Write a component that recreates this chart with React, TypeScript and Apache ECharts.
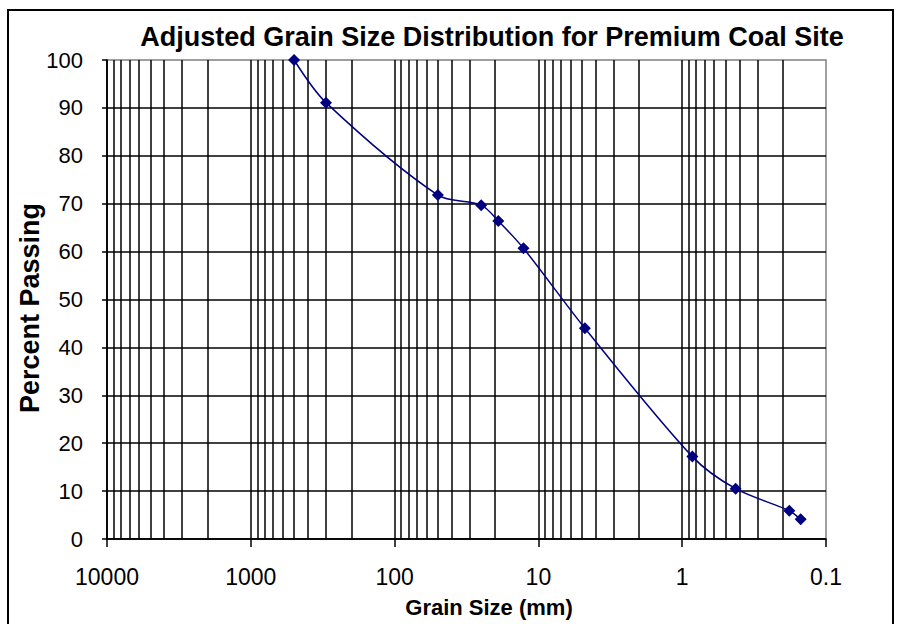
import React, { useEffect, useRef } from "react";
import * as echarts from "echarts";

const grainSize = [500, 300, 50, 25, 19, 12.7, 4.75, 0.85, 0.425, 0.18, 0.15];
const percentPassing = [100, 91.1, 71.8, 69.7, 66.4, 60.7, 44.0, 17.2, 10.5, 5.9, 4.1];
const decades = [0.1, 1, 10, 100, 1000];
const minorMultipliers = [2, 3, 4, 5, 6, 7, 8, 9];

const titleText = "Adjusted Grain Size Distribution for Premium Coal Site";
const xName = "Grain Size (mm)";
const yName = "Percent Passing";

const FONT = '"Liberation Sans", Arial, Helvetica, sans-serif';

export default function App() {
  const ref = useRef<HTMLDivElement>(null);
  useEffect(() => {
    if (!ref.current) return;
    const chart = echarts.init(ref.current, null, { renderer: "svg" });
    const minorLines: any[] = [];
    decades.forEach((d) => minorMultipliers.forEach((m) => minorLines.push({ xAxis: d * m })));
    const points = grainSize.map((g, i) => [g, percentPassing[i]]);
    chart.setOption({
      animation: false,
      backgroundColor: "#ffffff",
      textStyle: { fontFamily: FONT },
      title: {
        text: titleText,
        left: 487,
        top: 18,
        textAlign: "center",
        textStyle: { fontFamily: FONT, fontSize: 27, fontWeight: "bold", color: "#000" },
      },
      grid: {
        left: 107,
        right: 78,
        top: 60,
        bottom: 85,
        show: true,
        borderColor: "#808080",
        borderWidth: 1.5,
        backgroundColor: "transparent",
      },
      xAxis: {
        type: "log",
        logBase: 10,
        min: 0.1,
        max: 10000,
        inverse: true,
        axisLine: { show: true, onZero: false, lineStyle: { color: "#000", width: 1.5 } },
        axisTick: { show: true, inside: false, length: 8, lineStyle: { color: "#000", width: 1.5 } },
        axisLabel: {
          margin: 26,
          fontSize: 23,
          color: "#000",
          fontFamily: FONT,
          formatter: (v: number) => String(parseFloat(Number(v).toPrecision(6))),
        },
        splitLine: { show: true, showMinLine: false, lineStyle: { color: "#000", width: 1.5 } },
        minorTick: { show: false },
        minorSplitLine: { show: false },
      },
      yAxis: {
        type: "value",
        min: 0,
        max: 100,
        interval: 10,
        axisLine: { show: true, lineStyle: { color: "#000", width: 1.5 } },
        axisTick: { show: true, inside: false, length: 5, lineStyle: { color: "#000", width: 1.5 } },
        axisLabel: { margin: 24, fontSize: 22, color: "#000", fontFamily: FONT },
        splitLine: { show: true, showMaxLine: false, lineStyle: { color: "#000", width: 1.5 } },
      },
      graphic: [
        {
          type: "rect",
          shape: { x: 8, y: 10, width: 885, height: 700 },
          style: { fill: "none", stroke: "#000", lineWidth: 2 },
          silent: true,
        },
        {
          type: "text",
          x: 489,
          y: 607,
          style: {
            text: xName,
            align: "center",
            verticalAlign: "middle",
            fontFamily: FONT,
            fontSize: 22,
            fontWeight: "bold",
            fill: "#000",
          },
        },
        {
          type: "text",
          x: 30,
          y: 308,
          rotation: Math.PI / 2,
          style: {
            text: yName,
            align: "center",
            verticalAlign: "middle",
            fontFamily: FONT,
            fontSize: 27,
            fontWeight: "bold",
            fill: "#000",
          },
        },
      ],
      series: [
        {
          type: "line",
          data: [],
          z: 1,
          silent: true,
          markLine: {
            silent: true,
            symbol: ["none", "none"],
            label: { show: false },
            lineStyle: { color: "#000", width: 1.5, type: "solid" },
            emphasis: { disabled: true },
            animation: false,
            data: minorLines,
          },
        },
        {
          type: "line",
          z: 5,
          data: points,
          smooth: 0.3,
          symbol: "diamond",
          symbolSize: 12,
          showSymbol: true,
          itemStyle: { color: "#000080" },
          lineStyle: { color: "#000080", width: 1.5 },
        },
      ],
    });
    return () => chart.dispose();
  }, []);
  return (
    <div
      ref={ref}
      style={{ position: "absolute", left: 0, top: 0, width: 904, height: 624 }}
    />
  );
}
